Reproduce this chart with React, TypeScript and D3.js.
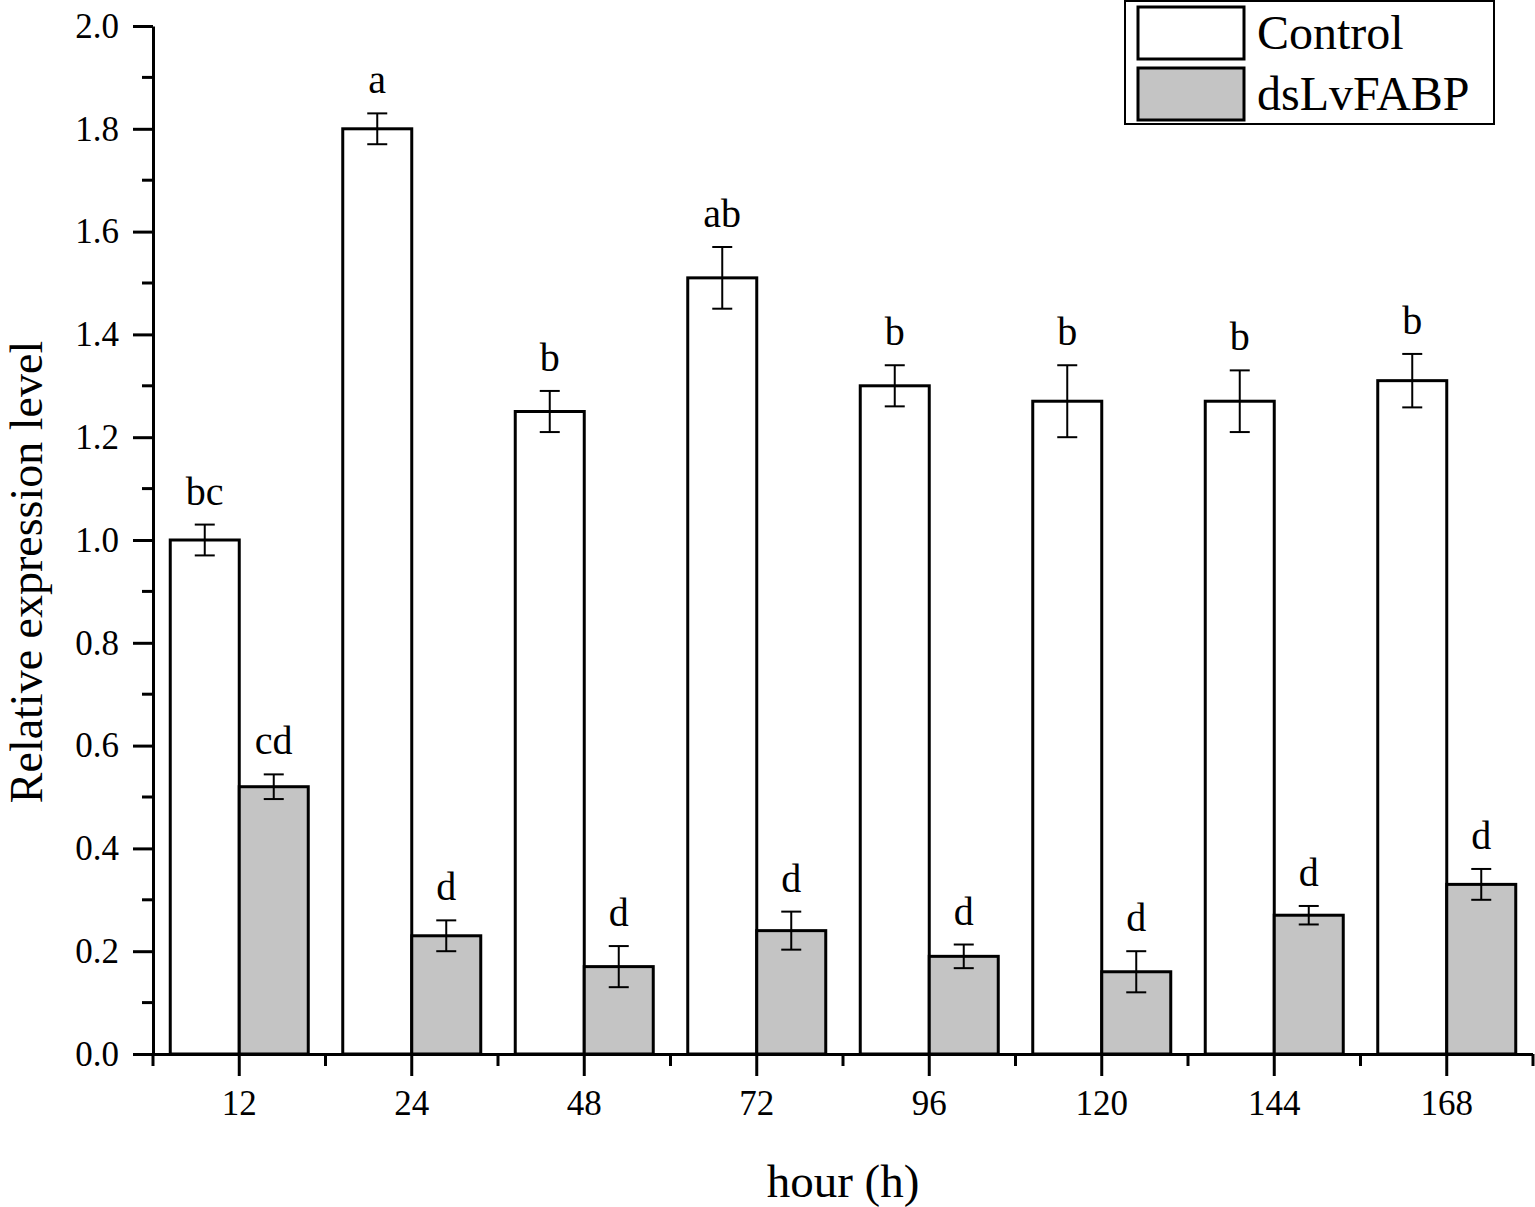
import { useEffect, useRef } from 'react';
import * as d3 from 'd3';

const hours = ['12', '24', '48', '72', '96', '120', '144', '168'];
const series = ['Control', 'dsLvFABP'];
const controlMean = [1.0, 1.8, 1.25, 1.51, 1.3, 1.27, 1.27, 1.31];
const controlErr = [0.03, 0.03, 0.04, 0.06, 0.04, 0.07, 0.06, 0.052];
const controlSig = ['bc', 'a', 'b', 'ab', 'b', 'b', 'b', 'b'];
const dsMean = [0.52, 0.23, 0.17, 0.24, 0.19, 0.16, 0.27, 0.33];
const dsErr = [0.024, 0.03, 0.04, 0.037, 0.023, 0.04, 0.018, 0.03];
const dsSig = ['cd', 'd', 'd', 'd', 'd', 'd', 'd', 'd'];
const yTicks = [0, 0.2, 0.4, 0.6, 0.8, 1.0, 1.2, 1.4, 1.6, 1.8, 2.0];
const yMinor = [0.1, 0.3, 0.5, 0.7, 0.9, 1.1, 1.3, 1.5, 1.7, 1.9];

const FONT = '"Liberation Serif", "Times New Roman", serif';
const fills: Record<string, string> = { Control: '#ffffff', dsLvFABP: '#c4c4c4' };

export default function App() {
  const ref = useRef<SVGSVGElement | null>(null);

  useEffect(() => {
    const svg = d3.select(ref.current);
    svg.selectAll('*').remove();

    const W = 1535, H = 1207;
    const left = 153, right = 1533, top = 26, bottom = 1054;

    const x0 = d3.scaleBand<string>().domain(hours).range([left, right]).padding(0);
    const bw = x0.bandwidth();
    const x1 = d3.scaleBand<string>().domain(series).range([bw * 0.1, bw * 0.9]).padding(0);
    const y = d3.scaleLinear().domain([0, 2]).range([bottom, top]);

    const g = svg.attr('width', W).attr('height', H).append('g');

    const rows = hours.map((h, i) => [
      { h, s: 'Control', v: controlMean[i], e: controlErr[i], sig: controlSig[i] },
      { h, s: 'dsLvFABP', v: dsMean[i], e: dsErr[i], sig: dsSig[i] },
    ]).flat();

    // bars
    g.selectAll('rect.bar')
      .data(rows)
      .join('rect')
      .attr('class', 'bar')
      .attr('x', d => x0(d.h)! + x1(d.s)!)
      .attr('y', d => y(d.v))
      .attr('width', x1.bandwidth())
      .attr('height', d => y(0) - y(d.v))
      .attr('fill', d => fills[d.s])
      .attr('stroke', '#000')
      .attr('stroke-width', 3);

    // error bars
    const cap = 10;
    const eb = g.selectAll('g.err').data(rows).join('g').attr('class', 'err')
      .attr('transform', d => `translate(${x0(d.h)! + x1(d.s)! + x1.bandwidth() / 2},0)`)
      .attr('stroke', '#000').attr('stroke-width', 2);
    eb.append('line').attr('x1', 0).attr('x2', 0).attr('y1', d => y(d.v + d.e)).attr('y2', d => y(d.v - d.e));
    eb.append('line').attr('x1', -cap).attr('x2', cap).attr('y1', d => y(d.v + d.e)).attr('y2', d => y(d.v + d.e));
    eb.append('line').attr('x1', -cap).attr('x2', cap).attr('y1', d => y(d.v - d.e)).attr('y2', d => y(d.v - d.e));

    // significance letters
    g.selectAll('text.sig').data(rows).join('text')
      .attr('class', 'sig')
      .attr('x', d => x0(d.h)! + x1(d.s)! + x1.bandwidth() / 2)
      .attr('y', d => y(d.v + d.e) - 20)
      .attr('text-anchor', 'middle')
      .style('font-family', FONT)
      .style('font-size', '40px')
      .attr('fill', '#000')
      .text(d => d.sig);

    // x axis
    const xa = g.append('g')
      .attr('transform', `translate(0,${bottom})`)
      .call(d3.axisBottom(x0).tickSize(22).tickSizeOuter(0).tickPadding(14));
    xa.attr('font-family', FONT);
    xa.select('.domain').attr('stroke-width', 3).attr('d', `M${left},0.5H${right}`);
    xa.selectAll('.tick line').attr('stroke-width', 3);
    xa.selectAll('.tick text').style('font-family', FONT).style('font-size', '35px').attr('fill', '#000');
    xa.selectAll('line.minor')
      .data([...hours.map(h => x0(h)!), right])
      .join('line')
      .attr('class', 'minor')
      .attr('x1', d => d).attr('x2', d => d)
      .attr('y1', 0).attr('y2', 12)
      .attr('stroke', '#000').attr('stroke-width', 3);

    // y axis
    const ya = g.append('g')
      .attr('transform', `translate(${left},0)`)
      .call(d3.axisLeft(y).tickValues(yTicks).tickFormat(d3.format('.1f')).tickSize(20).tickSizeOuter(0).tickPadding(14));
    ya.attr('font-family', FONT);
    ya.select('.domain').attr('stroke-width', 3);
    ya.selectAll('.tick line').attr('stroke-width', 3);
    ya.selectAll('.tick text').style('font-family', FONT).style('font-size', '35px').attr('fill', '#000');
    ya.selectAll('line.minor')
      .data(yMinor)
      .join('line')
      .attr('class', 'minor')
      .attr('x1', -11).attr('x2', 0)
      .attr('y1', d => y(d)).attr('y2', d => y(d))
      .attr('stroke', '#000').attr('stroke-width', 3);

    // axis titles
    g.append('text')
      .attr('x', (left + right) / 2)
      .attr('y', 1197)
      .attr('text-anchor', 'middle')
      .style('font-family', FONT)
      .style('font-size', '47px')
      .text('hour (h)');

    g.append('text')
      .attr('transform', `translate(42,${(top + bottom) / 2 + 32}) rotate(-90)`)
      .attr('text-anchor', 'middle')
      .style('font-family', FONT)
      .style('font-size', '46px')
      .text('Relative expression level');

    // legend
    const lg = g.append('g');
    lg.append('rect')
      .attr('x', 1125).attr('y', 1).attr('width', 369).attr('height', 123)
      .attr('fill', '#fff').attr('stroke', '#000').attr('stroke-width', 2);
    series.forEach((s, i) => {
      lg.append('rect')
        .attr('x', 1138).attr('y', 7 + i * 61).attr('width', 106).attr('height', 52)
        .attr('fill', fills[s]).attr('stroke', '#000').attr('stroke-width', 3);
      lg.append('text')
        .attr('x', 1257).attr('y', 49 + i * 61)
        .style('font-family', FONT)
        .style('font-size', '48px')
        .text(s);
    });
  }, []);

  return <svg ref={ref} style={{ position: 'absolute', left: 0, top: 0, display: 'block' }} />;
}
